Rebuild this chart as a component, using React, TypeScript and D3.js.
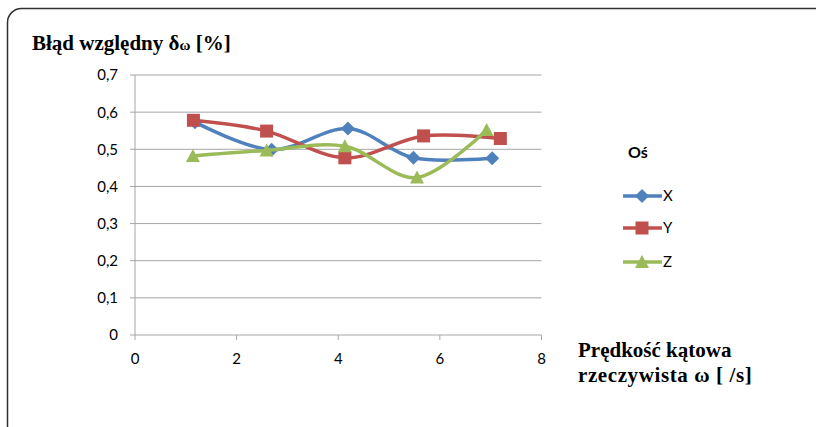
import React from "react";
import * as d3 from "d3";

// Measured angular velocity (x) and relative error (y) for each axis
const xSeriesX = [1.18, 2.69, 4.19, 5.48, 7.03];
const xSeriesY = [0.573, 0.499, 0.556, 0.477, 0.476];
const ySeriesX = [1.15, 2.59, 4.13, 5.68, 7.19];
const ySeriesY = [0.578, 0.549, 0.477, 0.536, 0.529];
const zSeriesX = [1.14, 2.59, 4.13, 5.55, 6.92];
const zSeriesY = [0.482, 0.497, 0.508, 0.424, 0.552];

const seriesNames = ["X", "Y", "Z"];
const seriesColors = ["#4F81BD", "#C0504D", "#9BBB59"];

const xTicks = [0, 2, 4, 6, 8];
const yTicks = [0, 0.1, 0.2, 0.3, 0.4, 0.5, 0.6, 0.7];

const W = 816;
const H = 427;

const x = d3.scaleLinear().domain([0, 8]).range([135, 541.5]);
const y = d3.scaleLinear().domain([0, 0.7]).range([335, 75]);

const series = [
  { xs: xSeriesX, ys: xSeriesY },
  { xs: ySeriesX, ys: ySeriesY },
  { xs: zSeriesX, ys: zSeriesY },
];

const line = d3
  .line<[number, number]>()
  .x((d) => x(d[0]))
  .y((d) => y(d[1]))
  .curve(d3.curveCardinal.tension(0));

const tickFont = "Lato, 'Open Sans', sans-serif";
const titleFont = "'Liberation Serif', 'DejaVu Serif', serif";
const fmt = (v: number) => (v === 0 ? "0" : v.toFixed(1).replace(".", ","));

function Marker({ kind, cx, cy, color }: { kind: number; cx: number; cy: number; color: string }) {
  if (kind === 0) {
    const r = 7;
    return (
      <path
        d={`M${cx},${cy - r}L${cx + r},${cy}L${cx},${cy + r}L${cx - r},${cy}Z`}
        fill={color}
      />
    );
  }
  if (kind === 1) {
    const s = 13;
    return <rect x={cx - s / 2} y={cy - s / 2} width={s} height={s} fill={color} />;
  }
  const h = 12;
  const w = 14;
  return (
    <path
      d={`M${cx},${cy - h / 2 - 1}L${cx + w / 2},${cy + h / 2}L${cx - w / 2},${cy + h / 2}Z`}
      fill={color}
    />
  );
}

export default function App() {
  const gridColor = "#A6A6A6";
  return (
    <svg
      width={W}
      height={H}
      style={{ position: "fixed", left: 0, top: 0, background: "#fff" }}
    >
      <rect x={0} y={0} width={W} height={H} fill="#fff" />
      {/* chart frame */}
      <rect x={7.5} y={8.5} width={W + 20} height={H + 20} rx={14} fill="none" stroke="#303030" strokeWidth={1.5} />

      {/* gridlines */}
      {yTicks.map((t) => (
        <g key={t}>
          <line x1={x(0)} x2={x(8)} y1={y(t)} y2={y(t)} stroke={gridColor} strokeWidth={1} />
          <line x1={x(0) - 5} x2={x(0)} y1={y(t)} y2={y(t)} stroke={gridColor} strokeWidth={1} />
          <text
            x={118}
            y={y(t)}
            dy="0.36em"
            textAnchor="end"
            fontFamily={tickFont}
            fontSize={15}
            fill="#000"
          >
            {fmt(t)}
          </text>
        </g>
      ))}
      <line x1={x(0)} x2={x(0)} y1={y(0.7)} y2={y(0)} stroke={gridColor} strokeWidth={1} />
      {xTicks.map((t) => (
        <g key={t}>
          <line x1={x(t)} x2={x(t)} y1={y(0)} y2={y(0) + 5} stroke={gridColor} strokeWidth={1} />
          <text
            x={x(t)}
            y={364}
            textAnchor="middle"
            fontFamily={tickFont}
            fontSize={15}
            fill="#000"
          >
            {t}
          </text>
        </g>
      ))}

      {/* series */}
      {series.map((s, i) => {
        const pts = s.xs.map((v, j) => [v, s.ys[j]] as [number, number]);
        return (
          <g key={i}>
            <path d={line(pts) || ""} fill="none" stroke={seriesColors[i]} strokeWidth={3.5} strokeLinejoin="round" />
            {pts.map((p, j) => (
              <Marker key={j} kind={i} cx={x(p[0])} cy={y(p[1])} color={seriesColors[i]} />
            ))}
          </g>
        );
      })}

      {/* titles */}
      <text x={32} y={50} fontFamily={titleFont} fontWeight="bold" fontSize={21} fill="#000">
        Błąd względny δ<tspan fontSize={15}>ω</tspan> [%]
      </text>
      <text x={578} y={357} fontFamily={titleFont} fontWeight="bold" fontSize={21} fill="#000">
        Prędkość kątowa
      </text>
      <text x={578} y={382} fontFamily={titleFont} fontWeight="bold" fontSize={21} fill="#000" letterSpacing={0.6}>
        rzeczywista ω [ /s]
      </text>

      {/* legend */}
      <text x={628} y={158} fontFamily={tickFont} fontWeight="bold" fontSize={16} fill="#000">
        Oś
      </text>
      {seriesNames.map((n, i) => {
        const cy = [196, 228, 262][i];
        return (
          <g key={n}>
            <line x1={623} x2={662} y1={cy} y2={cy} stroke={seriesColors[i]} strokeWidth={3.5} />
            <Marker kind={i} cx={642} cy={cy} color={seriesColors[i]} />
            <text x={663} y={cy} dy="0.36em" fontFamily={tickFont} fontSize={15} fill="#000">
              {n}
            </text>
          </g>
        );
      })}
    </svg>
  );
}
